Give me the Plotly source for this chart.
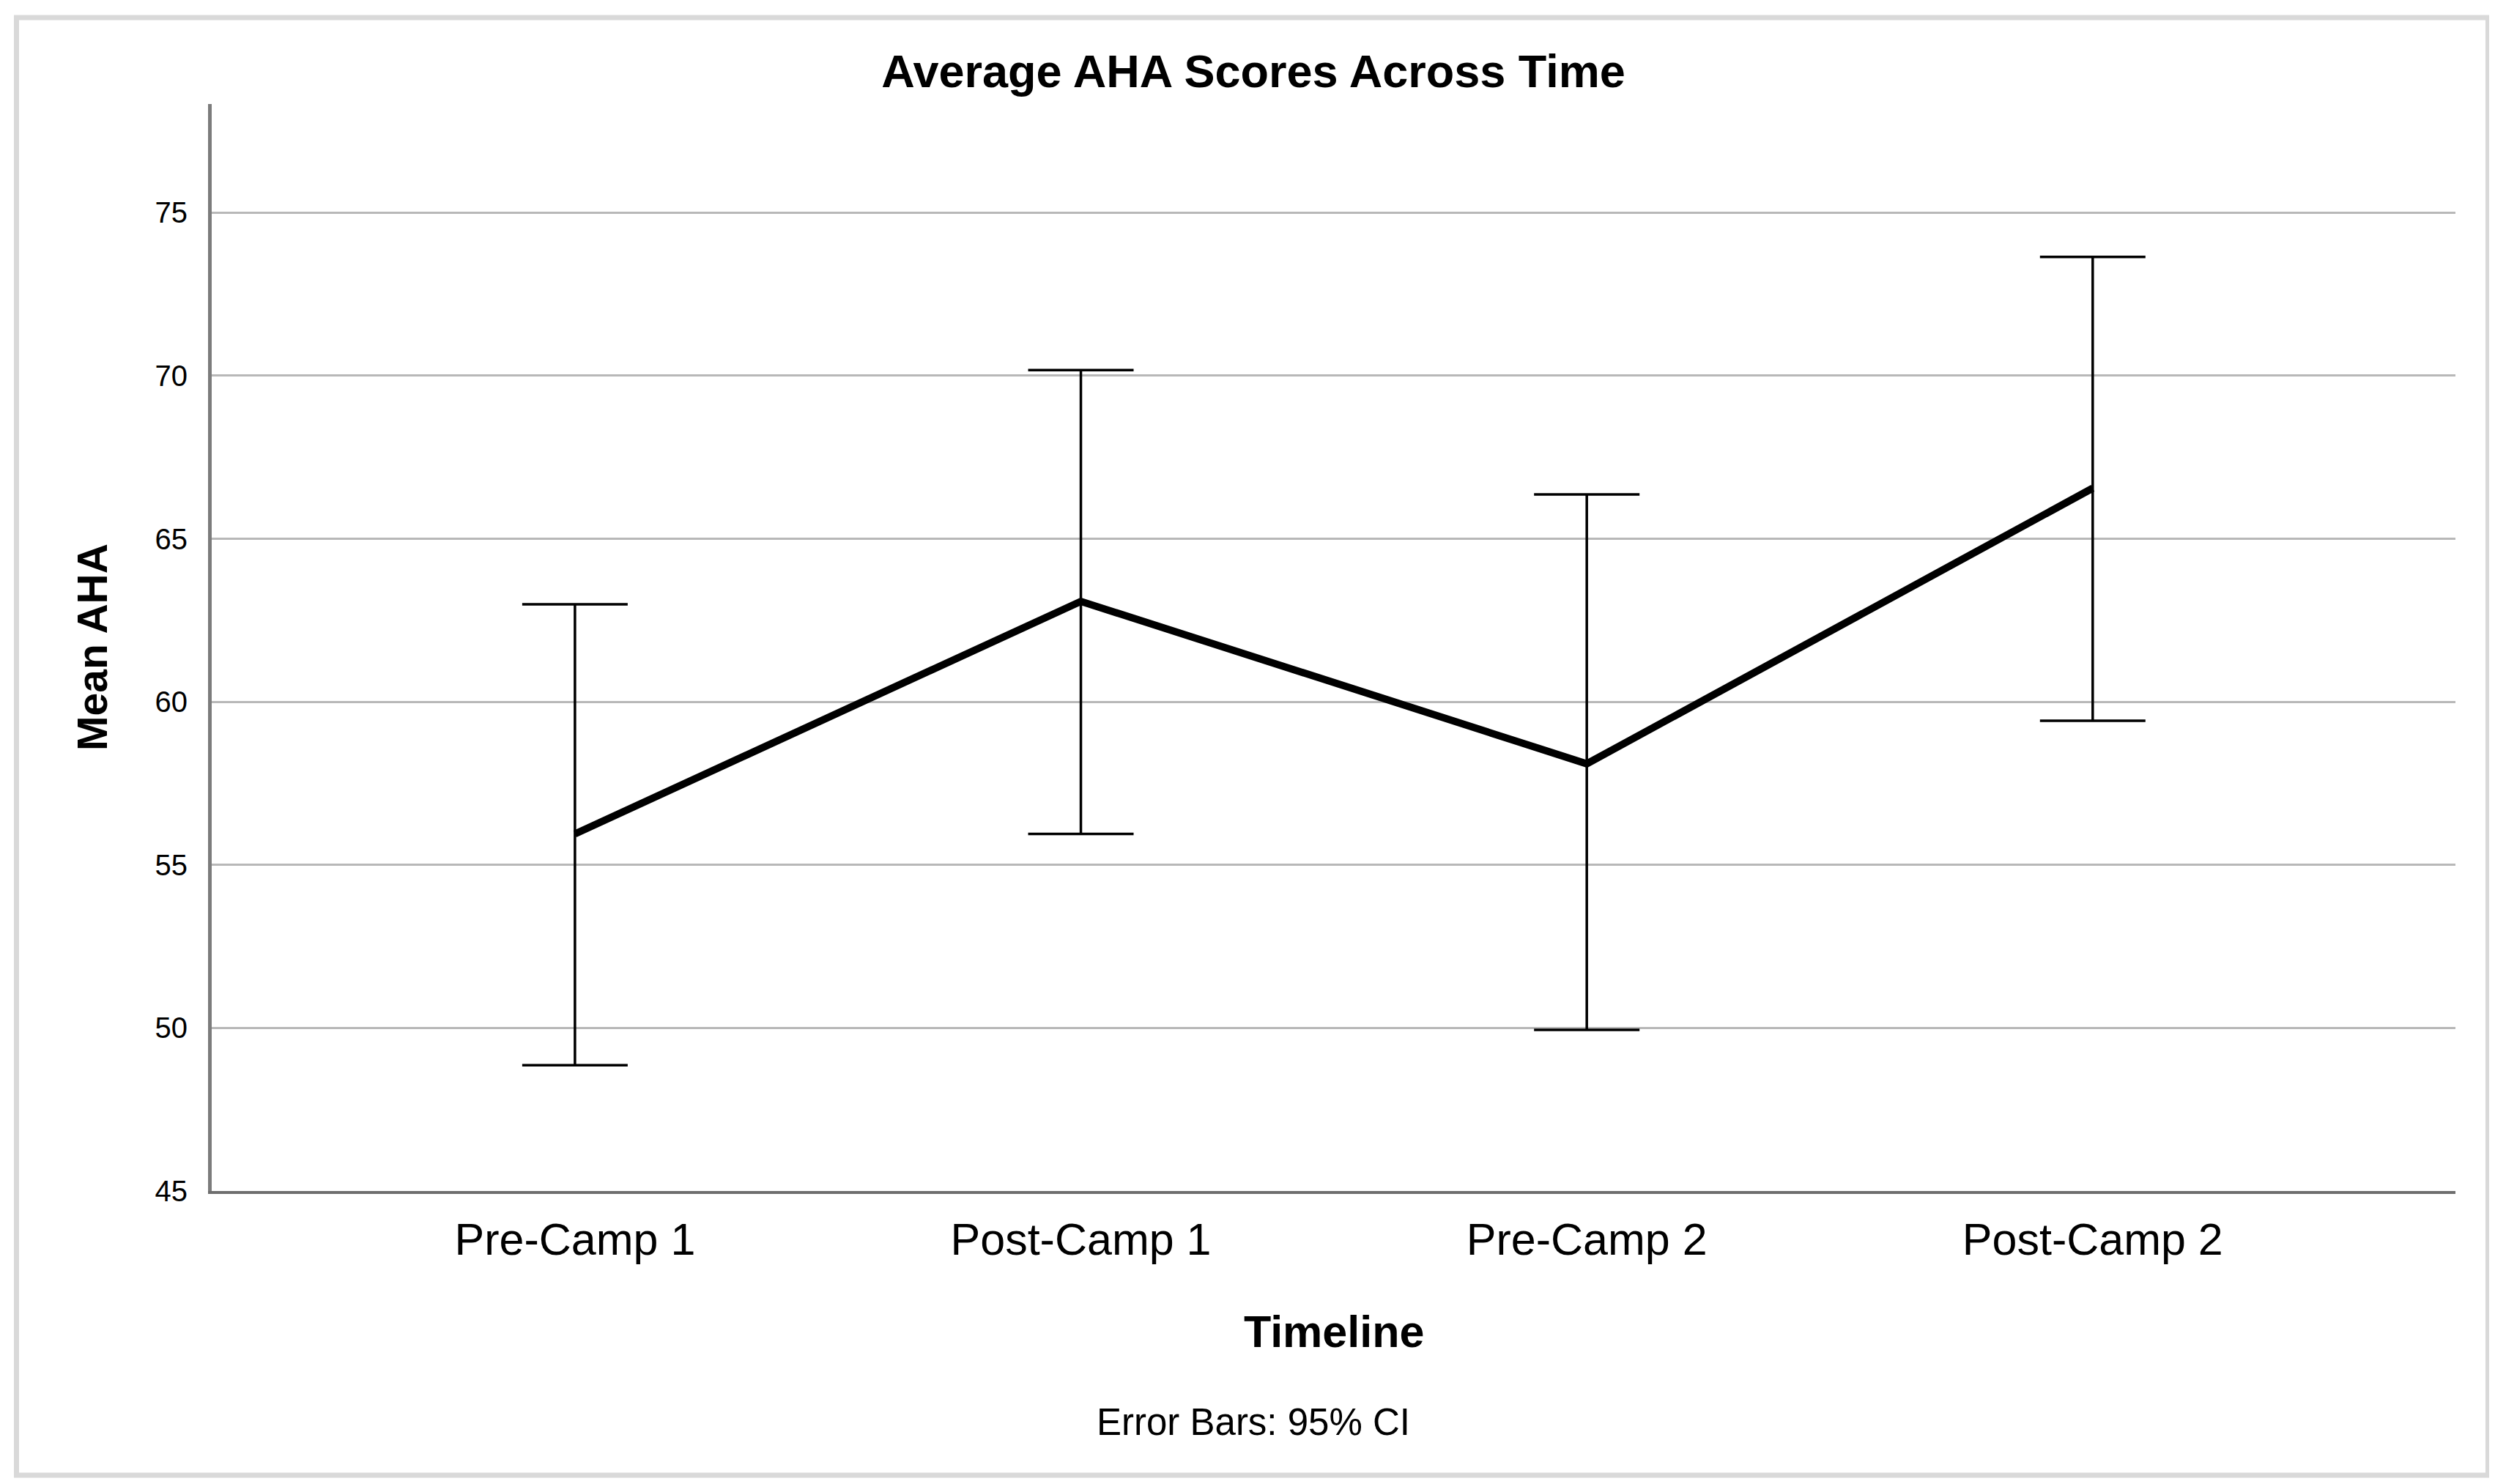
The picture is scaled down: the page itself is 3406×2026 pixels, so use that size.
import plotly.graph_objects as go

categories = ["Pre-Camp 1", "Post-Camp 1", "Pre-Camp 2", "Post-Camp 2"]
mean_aha = [55.95, 63.08, 58.10, 66.55]
ci_upper = [62.99, 70.17, 66.36, 73.64]
ci_lower = [48.86, 55.95, 49.94, 59.42]
y_ticks = [45, 50, 55, 60, 65, 70, 75]

err_plus = [u - m for u, m in zip(ci_upper, mean_aha)]
err_minus = [m - l for m, l in zip(mean_aha, ci_lower)]

W, H = 3406, 2026
ML, MR, MT, MB = 281, 62, 134, 408
PW, PH = W - ML - MR, H - MT - MB

def px_x(p):
    return (p - ML) / PW

def px_y(p):
    return (H - MB - p) / PH

fig = go.Figure()
fig.add_trace(go.Scatter(
    x=list(range(len(categories))), y=mean_aha, mode="lines",
    line=dict(color="black", width=10),
    error_y=dict(type="data", symmetric=False, array=err_plus, arrayminus=err_minus,
                 color="black", thickness=3.5, width=72),
    showlegend=False,
))

font_main = "Liberation Sans, Arial, sans-serif"

fig.update_layout(
    width=W, height=H,
    margin=dict(l=ML, r=MR, t=MT, b=MB),
    paper_bgcolor="white", plot_bgcolor="white",
    title=dict(text="<b>Average AHA Scores Across Time</b>", x=0.5, xanchor="center",
               y=1 - 89 / H, yanchor="middle", font=dict(family=font_main, size=63, color="black")),
    xaxis=dict(
        range=[-0.718, 3.717], tickmode="array", tickvals=list(range(len(categories))),
        ticktext=categories, showgrid=False, zeroline=False,
        showline=True, linecolor="#6e6e6e", linewidth=4, ticks="",
        tickfont=dict(family=font_main, size=61, color="black"),
        ticklabelstandoff=10,
    ),
    yaxis=dict(
        range=[45, 78.33], tickmode="array", tickvals=y_ticks,
        showgrid=True, gridcolor="#b8b8b8", gridwidth=3, zeroline=False,
        showline=True, linecolor="#7c7c7c", linewidth=5, ticks="",
        tickfont=dict(family=font_main, size=40, color="black"),
        ticklabelstandoff=20,
    ),
    annotations=[
        dict(text="<b>Mean AHA</b>", xref="paper", yref="paper", x=px_x(118), y=px_y((134 + 1618) / 2),
             xanchor="center", yanchor="middle", textangle=-90, showarrow=False,
             font=dict(family=font_main, size=57, color="black")),
        dict(text="<b>Timeline</b>", xref="paper", yref="paper", x=0.5, y=px_y(1810),
             xanchor="center", yanchor="middle", showarrow=False,
             font=dict(family=font_main, size=61, color="black")),
        dict(text="Error Bars: 95% CI", xref="paper", yref="paper", x=px_x(W / 2), y=px_y(1933),
             xanchor="center", yanchor="middle", showarrow=False,
             font=dict(family=font_main, size=51, color="black")),
    ],
    shapes=[
        dict(type="rect", xref="paper", yref="paper", x0=px_x(14.5), x1=px_x(3388.5),
             y0=px_y(2006), y1=px_y(16), line=dict(color="#d9d9d9", width=7), layer="below"),
    ],
)

fig.write_html("out.html")
